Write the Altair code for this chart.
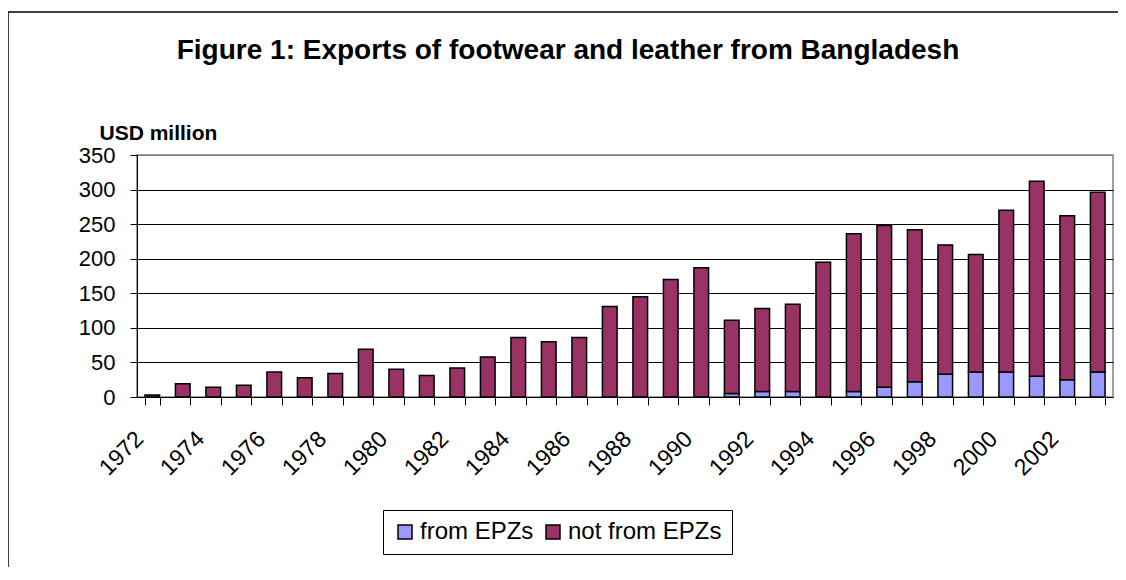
import altair as alt
import pandas as pd

years = [1972, 1973, 1974, 1975, 1976, 1977, 1978, 1979, 1980, 1981,
         1982, 1983, 1984, 1985, 1986, 1987, 1988, 1989, 1990, 1991,
         1992, 1993, 1994, 1995, 1996, 1997, 1998, 1999, 2000, 2001,
         2002, 2003]
from_epz = [0, 0, 0, 0, 0, 0, 0, 0, 0, 0,
            0, 0, 0, 0, 0, 0, 0, 0, 0, 5,
            8, 8, 0, 8, 14, 22, 33, 36, 36, 30,
            25, 36]
not_from_epz = [3, 19, 14, 17, 36, 28, 34, 69, 40, 31,
                42, 58, 86, 80, 86, 131, 145, 170, 187, 106,
                120, 126, 195, 228, 234, 220, 187, 170, 234, 282,
                237, 260]
series_names = ["from EPZs", "not from EPZs"]
series_colors = ["#9999FF", "#993366"]
y_ticks = [0, 50, 100, 150, 200, 250, 300, 350]

rows = []
for i, yr in enumerate(years):
    rows.append({"year": yr, "series": series_names[0], "value": from_epz[i], "ord": 0})
    rows.append({"year": yr, "series": series_names[1], "value": not_from_epz[i], "ord": 1})
df = pd.DataFrame(rows)

FONT = "Liberation Sans"

bars = alt.Chart(df).mark_bar(stroke="black", strokeWidth=1.5).encode(
    x=alt.X(
        "year:O",
        scale=alt.Scale(paddingInner=0.52, paddingOuter=0.26),
        axis=alt.Axis(
            title=None,
            labelAngle=-45,
            labelAlign="right",
            labelBaseline="middle",
            labelFontSize=23,
            labelOffset=-13,
            labelPadding=30,
            labelOverlap=False,
            labelColor="black",
            tickSize=8,
            tickBand="extent",
            tickColor="black",
            domainColor="black",
            labelExpr="datum.value % 2 == 0 ? datum.label : ''",
            grid=False,
        ),
    ),
    y=alt.Y(
        "value:Q",
        stack="zero",
        scale=alt.Scale(domain=[0, 350], nice=False),
        axis=alt.Axis(
            values=y_ticks,
            title="USD million",
            titleAngle=0,
            titleX=-38,
            titleY=-16,
            titleAlign="left",
            titleBaseline="alphabetic",
            titleFontSize=21,
            titleFontWeight="bold",
            titleColor="black",
            labelFontSize=22,
            labelPadding=15,
            labelColor="black",
            tickSize=7,
            tickColor="black",
            domainColor="black",
            gridColor={"condition": {"test": "datum.value === 350", "value": "#808080"}, "value": "black"},
            gridWidth=1,
        ),
    ),
    color=alt.Color(
        "series:N",
        scale=alt.Scale(domain=series_names, range=series_colors),
        legend=alt.Legend(
            title=None,
            orient="none",
            legendX=246,
            legendY=355,
            direction="horizontal",
            strokeColor="black",
            fillColor="white",
            padding=10,
            labelFontSize=24,
            labelColor="black",
            labelOffset=3,
            columnPadding=7,
            symbolType="square",
            symbolSize=196,
            symbolStrokeColor="black",
            symbolStrokeWidth=1.5,
            symbolOpacity=1,
        ),
    ),
    order=alt.Order("ord:Q", sort="ascending"),
)

frame_data = alt.InlineData(values=[{"k": 0}])
frame_top = alt.Chart(frame_data).mark_rule(color="black", strokeWidth=1.5).encode(
    x=alt.value(-129), x2=alt.value(1300), y=alt.value(-143)
)
frame_left = alt.Chart(frame_data).mark_rule(color="black", strokeWidth=1.5).encode(
    x=alt.value(-129), y=alt.value(-143), y2=alt.value(800)
)

chart = alt.layer(bars, frame_top, frame_left).properties(
    width=976,
    height=242,
    title=alt.TitleParams(
        "Figure 1: Exports of footwear and leather from Bangladesh",
        fontSize=28,
        fontWeight="bold",
        font=FONT,
        color="black",
        anchor="middle",
        baseline="alphabetic",
        dx=-57,
        dy=80,
    ),
    autosize=alt.AutoSizeParams(type="none"),
    padding={"left": 129, "top": 147, "right": 5, "bottom": 170},
).configure(font=FONT, background="white").configure_view(
    stroke="#808080", strokeWidth=1.5
)

chart.save("out.html", embed_options={"renderer": "svg", "actions": False})
